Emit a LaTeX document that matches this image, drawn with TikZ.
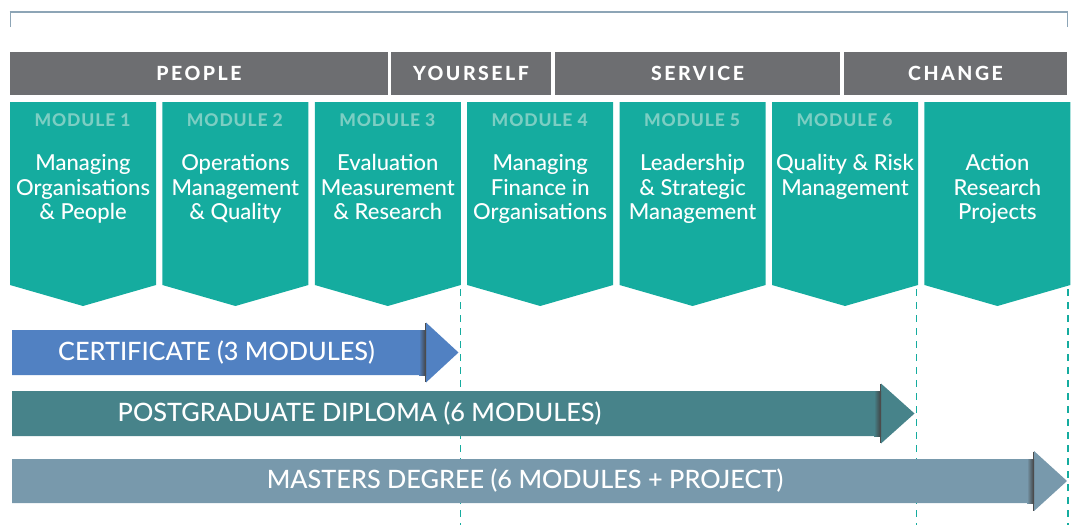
\documentclass[tikz,border=0pt]{standalone}
\usepackage{fontspec}
\setmainfont{Lato}
\newfontfamily\latomed{Lato Medium}
\newfontfamily\latoheavy{Lato Heavy}
\usetikzlibrary{positioning}

\definecolor{hdrgray}{HTML}{6D6E71}
\definecolor{modteal}{HTML}{15AC9F}
\definecolor{modlabel}{HTML}{7CCEC3}
\definecolor{certblue}{HTML}{5181C2}
\definecolor{diplteal}{HTML}{47838A}
\definecolor{mastgray}{HTML}{7899AC}
\definecolor{brkgray}{HTML}{8DA5B6}

\begin{document}
\begin{tikzpicture}[x=1pt,y=-1pt,
  hdr/.style={fill=hdrgray,minimum height=43pt,inner sep=0pt,text=white,
    font=\fontsize{19.5}{22}\latoheavy\addfontfeature{LetterSpace=13}},
  modlab/.style={anchor=north,inner sep=0pt,text=modlabel,
    font=\fontsize{17.5}{20}\latoheavy\addfontfeature{LetterSpace=5}},
  modtxt/.style={anchor=north,inner sep=0pt,text=white,align=center,
    font=\fontsize{22}{24.5}\latomed},
  bartxt/.style={inner sep=0pt,text=white,font=\fontsize{25.3}{28}\latomed},
  guide/.style={modteal,line width=1.5pt,dash pattern=on 7pt off 6pt}]
  \useasboundingbox (0,0) rectangle (1073,525);

  % bracket on top
  \draw[brkgray,line width=1pt] (10,27) -- (10,12);
  \draw[brkgray,line width=1pt] (1067,27) -- (1067,12);
  \draw[brkgray,line width=2.5pt] (9.5,12) -- (1067.5,12);

  % theme headers
  \node[hdr,minimum width=378pt] (people) at (199,73.5) {PEOPLE};
  \node[hdr,minimum width=160pt] (yourself) at (471,73.5) {YOURSELF};
  \node[hdr,minimum width=285pt] (service) at (697.5,73.5) {SERVICE};
  \node[hdr,minimum width=223pt] (change) at (955.5,73.5) {CHANGE};

  % module pennants
  \foreach \i in {1,...,7} {
    \pgfmathsetmacro\xl{10+(\i-1)*152.4}
    \fill[modteal] (\xl,102) -- ++(146,0) -- ++(0,183) -- ++(-73,21)
      -- ++(-73,-21) -- cycle;
  }
  \foreach \i in {1,...,6}
    \node[modlab] (l\i) at ({82.5+(\i-1)*152.4},113) {MODULE \i};
  \foreach \i/\t in {1/{Managing\\Organisations\\\& People},
                     2/{Operations\\Management\\\& Quality},
                     3/{Evaluation\\Measurement\\\& Research},
                     4/{Managing\\Finance in\\Organisations},
                     5/{Leadership\\\& Strategic\\Management},
                     6/{Quality \& Risk\\Management},
                     7/{Action\\Research\\Projects}}
    \node[modtxt] (m\i) at ({83+(\i-1)*152.4},154.5) {\t};

  % exit points
  \coordinate (c3) at (460.5,289);
  \coordinate (c6) at (916.5,289);
  \coordinate (c7) at (1068,289);
  \foreach \c in {c3,c6,c7}
    \draw[guide] (\c) -- ++(0,236);

  % award bars
  \fill[certblue] (12,330) -- (426,330) -- (426,322.5) -- (458.5,352.5)
    -- (426,382.5) -- (426,375) -- (12,375) -- cycle;
  \shade[left color=certblue,right color=black!75] (419,330) rectangle (426,375);
  \draw[black!70,line width=1.5pt] (425.5,323) -- (425.5,382);
  \node[bartxt] (cert) at (216.5,352.5) {CERTIFICATE (3 MODULES)};

  \fill[diplteal] (12,391) -- (881,391) -- (881,383.5) -- (914.5,413.5)
    -- (881,443.5) -- (881,436) -- (12,436) -- cycle;
  \shade[left color=diplteal,right color=black!75] (874,391) rectangle (881,436);
  \draw[black!70,line width=1.5pt] (880.5,384) -- (880.5,443);
  \node[bartxt] (dipl) at (359.5,413.5) {POSTGRADUATE DIPLOMA (6 MODULES)};

  \fill[mastgray] (12,459) -- (1034,459) -- (1034,451) -- (1067,481)
    -- (1034,511) -- (1034,503) -- (12,503) -- cycle;
  \shade[left color=mastgray,right color=black!75] (1027,459) rectangle (1034,503);
  \draw[black!70,line width=1.5pt] (1033.5,451.5) -- (1033.5,510.5);
  \node[bartxt] (mast) at (525,481) {MASTERS DEGREE (6 MODULES + PROJECT)};
\end{tikzpicture}
\end{document}
